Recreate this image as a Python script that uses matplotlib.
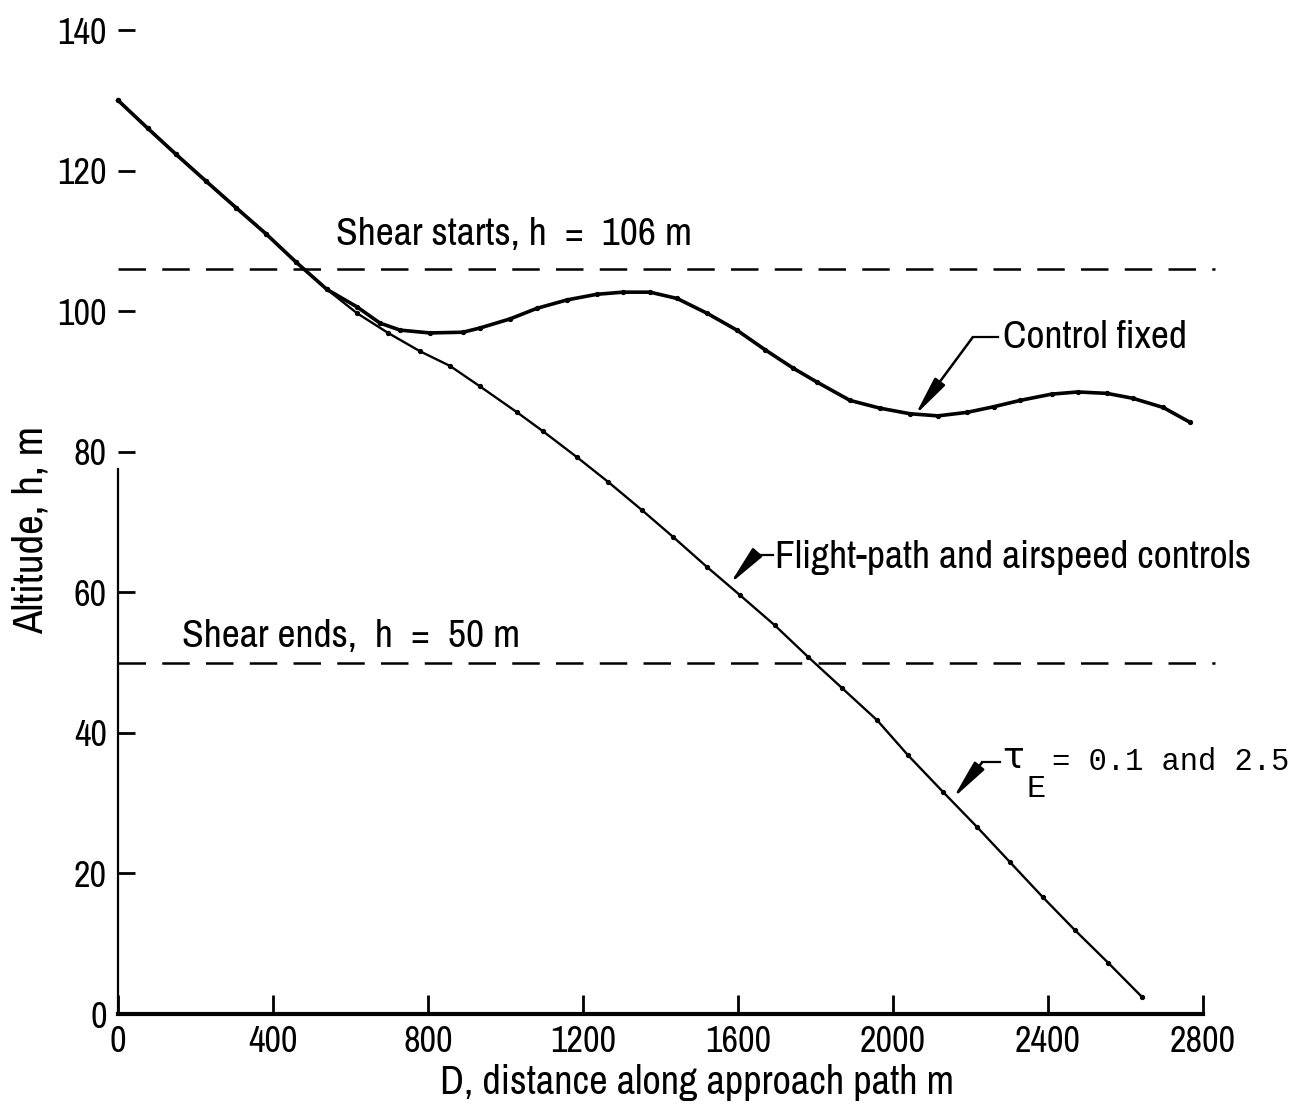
import matplotlib
matplotlib.use("Agg")
import matplotlib.pyplot as plt

plt.rcParams['font.family'] = ['Archivo Narrow', 'DejaVu Sans']

# Common approach segment (both runs) before the shear influence
d_common = [0, 77, 150, 227, 305, 382, 459, 539]
h_common = [130.0, 126.0, 122.3, 118.5, 114.7, 111.0, 107.0, 103.1]

# Control fixed run
d_fixed = [617, 676, 728, 805, 890, 934, 1012, 1081, 1159, 1236, 1303, 1373,
           1443, 1520, 1597, 1670, 1742, 1804, 1889, 1966, 2044, 2116, 2191,
           2260, 2328, 2410, 2477, 2552, 2619, 2697, 2766]
h_fixed = [100.6, 98.3, 97.3, 96.9, 97.0, 97.6, 98.9, 100.4, 101.6, 102.4, 102.7, 102.7,
           101.8, 99.7, 97.3, 94.5, 91.9, 89.9, 87.3, 86.2, 85.4, 85.1, 85.6,
           86.4, 87.3, 88.2, 88.5, 88.3, 87.6, 86.3, 84.2]

# Flight-path and airspeed controls run
d_ctrl = [617, 697, 779, 857, 934, 1030, 1097, 1185, 1265, 1352, 1432, 1520,
          1605, 1695, 1781, 1868, 1959, 2039, 2129, 2217, 2302, 2387, 2470,
          2555, 2643]
h_ctrl = [99.7, 96.9, 94.3, 92.2, 89.3, 85.6, 82.9, 79.2, 75.7, 71.7, 67.9, 63.6,
          59.6, 55.3, 50.8, 46.4, 41.8, 36.8, 31.6, 26.6, 21.6, 16.6, 11.9,
          7.3, 2.4]

shear_start_h = 106
shear_end_h = 50

x_ticks = [0, 400, 800, 1200, 1600, 2000, 2400, 2800]
y_ticks = [0, 20, 40, 60, 80, 100, 120, 140]

fig = plt.figure(figsize=(13.06, 11.07), dpi=100)
ax = fig.add_axes([118 / 1306, 93 / 1107, 1085 / 1306, 984 / 1107])
ax.set_xlim(0, 2800)
ax.set_ylim(0, 140)

fs = 28.5     # annotation text
fs_tick = 26  # tick labels
fs_lab = 29   # axis titles

# shear boundaries
for hv in (shear_start_h, shear_end_h):
    ax.plot([0, 2830], [hv, hv], color='k', lw=1.8, dashes=(11, 6.5), clip_on=False)

ax.text(563, 109.4, "Shear starts, h  =  106 m", fontsize=fs, va='baseline', ha='left')
ax.text(165, 52.2, "Shear ends,  h  =  50 m", fontsize=fs, va='baseline', ha='left')

# trajectories
ax.plot(d_common + d_fixed, h_common + h_fixed, color='k', lw=2.6,
        marker='o', ms=2.8, clip_on=False)
ax.plot(d_common + d_ctrl, h_common + h_ctrl, color='k', lw=1.7,
        marker='o', ms=2.8, clip_on=False)

arrow = dict(arrowstyle='-|>,head_length=1.0,head_width=0.16', color='k',
             lw=1.8, mutation_scale=24, shrinkA=0, shrinkB=0)

# Control fixed label
ax.plot([2206, 2271], [96.3, 96.3], color='k', lw=1.6)
ax.annotate("", xy=(2057, 85.2), xytext=(2206, 96.3), arrowprops=arrow)
ax.text(2284, 94.7, "Control fixed", fontsize=fs, va='baseline', ha='left')

# Flight-path and airspeed controls label
ax.plot([1644, 1690], [65.3, 65.3], color='k', lw=1.6)
ax.annotate("", xy=(1579, 61.2), xytext=(1644, 65.3), arrowprops=arrow)
ax.text(1695, 63.4, "Flight-path and airspeed controls", fontsize=fs,
        va='baseline', ha='left')

# time constant label
ax.plot([2230, 2276], [35.8, 35.8], color='k', lw=1.6)
ax.annotate("", xy=(2155, 30.7), xytext=(2230, 35.8), arrowprops=arrow)
ax.text(2282, 35.0, "τ", fontsize=26, va='baseline', ha='left',
        family=['DejaVu Sans'])
ax.text(2344, 30.9, "E", fontsize=23, va='baseline', ha='left',
        family=['Liberation Mono', 'DejaVu Sans Mono'])
ax.text(2410, 34.7, "= 0.1 and 2.5", fontsize=22, va='baseline', ha='left',
        family=['Liberation Mono', 'DejaVu Sans Mono'], clip_on=False)

# axes styling
ax.spines['top'].set_visible(False)
ax.spines['right'].set_visible(False)
ax.spines['bottom'].set_linewidth(3)
ax.spines['left'].set_linewidth(1.6)
ax.spines['left'].set_bounds(0, 77.5)
ax.spines['bottom'].set_bounds(0, 2800)

ax.set_xticks(x_ticks)
ax.set_yticks(y_ticks)
ax.set_xticklabels([str(v) for v in x_ticks])
ax.set_yticklabels([str(v) for v in y_ticks])
ax.tick_params(axis='x', direction='in', length=14, width=2, pad=8, labelsize=fs_tick)
ax.tick_params(axis='y', direction='in', length=12, width=2, pad=8, labelsize=fs_tick)

ax.set_xlabel("D, distance along approach path m", fontsize=fs_lab, va='center', ha='center')
ax.xaxis.set_label_coords(0.534, -0.070)
ax.set_ylabel("Altitude, h, m", fontsize=31, va='center', ha='center')
ax.yaxis.set_label_coords(-0.081, 0.492)

fig.savefig("out.png", dpi=100, facecolor='white')
